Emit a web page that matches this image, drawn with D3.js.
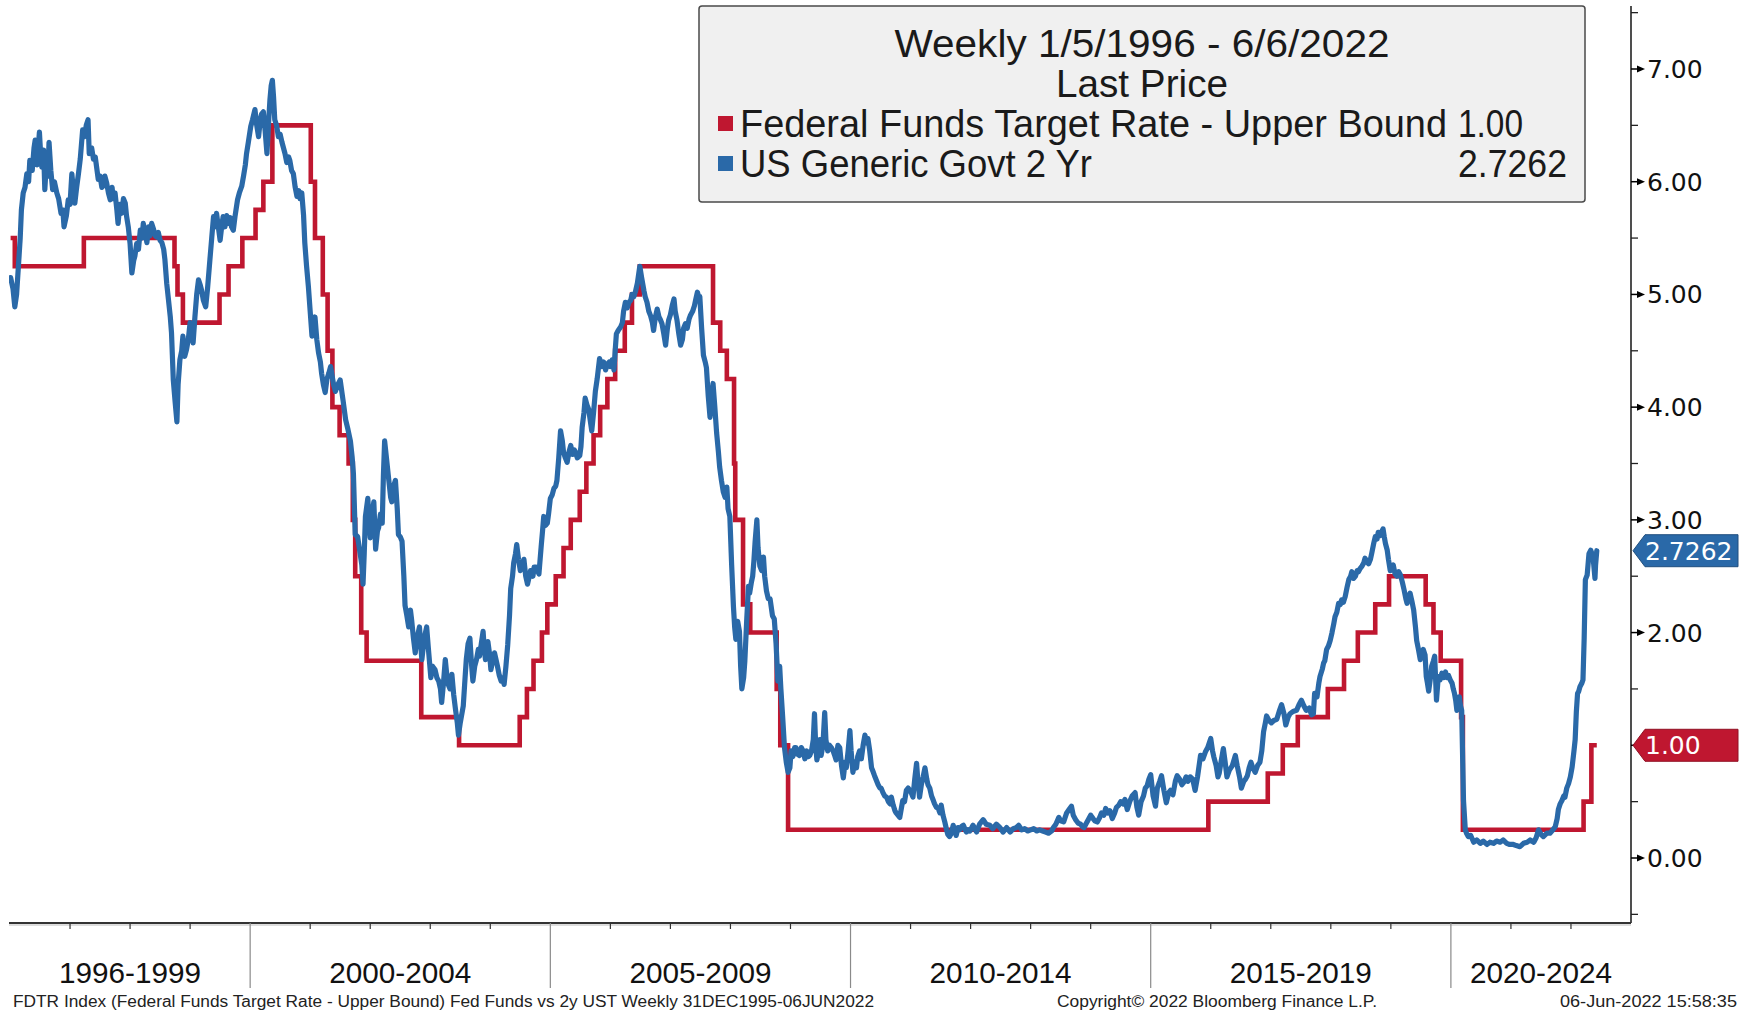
<!DOCTYPE html>
<html><head><meta charset="utf-8">
<script src="https://cdn.jsdelivr.net/npm/d3@7"></script>
<style>html,body{margin:0;padding:0;background:#fff;}svg{display:block;}</style>
</head><body>
<svg id="chart" width="1750" height="1012"></svg>
<script>
// ---------------- DATA ----------------
const titleLines = ["Weekly 1/5/1996 - 6/6/2022", "Last Price"];
const seriesNames = ["Federal Funds Target Rate - Upper Bound", "US Generic Govt 2 Yr"];
const lastValues = ["1.00", "2.7262"];
const periodLabels = ["1996-1999", "2000-2004", "2005-2009", "2010-2014", "2015-2019", "2020-2024"];
const periodStarts = [1996, 2000, 2005, 2010, 2015, 2020];
const yTicks = [0, 1, 2, 3, 4, 5, 6, 7];
const footerLeft = "FDTR Index (Federal Funds Target Rate - Upper Bound) Fed Funds vs 2y UST  Weekly 31DEC1995-06JUN2022";
const footerMid = "Copyright\u00A9 2022 Bloomberg Finance L.P.";
const footerRight = "06-Jun-2022 15:58:35";

// Fed funds target upper bound: change dates (decimal year) and levels
const fedDates = [1996.01,1996.08,1997.23,1998.74,1998.79,1998.88,1999.49,1999.64,1999.87,2000.09,2000.22,2000.37,
  2001.01,2001.08,2001.21,2001.29,2001.37,2001.49,2001.64,2001.71,2001.75,2001.85,2001.94,2002.85,2003.48,
  2004.49,2004.61,2004.72,2004.86,2004.95,2005.09,2005.22,2005.34,2005.49,2005.60,2005.72,2005.83,2005.95,
  2006.08,2006.24,2006.36,2006.49,2007.71,2007.83,2007.94,2008.06,2008.08,2008.21,2008.33,2008.77,2008.83,2008.96,
  2015.96,2016.95,2017.20,2017.45,2017.95,2018.22,2018.45,2018.74,2018.97,2019.58,2019.71,2019.83,2020.17,2020.20,
  2022.21,2022.34,2022.43];
const fedRates = [5.50,5.25,5.50,5.25,5.00,4.75,5.00,5.25,5.50,5.75,6.00,6.50,
  6.00,5.50,5.00,4.50,4.00,3.75,3.50,3.00,2.50,2.00,1.75,1.25,1.00,
  1.25,1.50,1.75,2.00,2.25,2.50,2.75,3.00,3.25,3.50,3.75,4.00,4.25,
  4.50,4.75,5.00,5.25,4.75,4.50,4.25,3.50,3.00,2.25,2.00,1.50,1.00,0.25,
  0.50,0.75,1.00,1.25,1.50,1.75,2.00,2.25,2.50,2.25,2.00,1.75,1.25,0.25,
  0.50,1.00,1.00];

// US 2Y yield readings [decimal year, yield]
const ust1996_1998 = [[1996.01,5.15],[1996.05,5.05],[1996.08,4.89],[1996.11,5.00],[1996.14,5.25],[1996.17,5.50],[1996.19,5.75],[1996.22,5.90],[1996.25,5.95],[1996.28,6.07],[1996.31,6.00],[1996.33,6.19],[1996.37,6.10],[1996.40,6.30],[1996.42,6.37],[1996.45,6.15],[1996.47,6.30],[1996.49,6.44],[1996.51,6.25],[1996.53,6.13],[1996.56,6.28],[1996.58,5.93],[1996.61,6.20],[1996.63,6.05],[1996.65,6.35],[1996.68,6.10],[1996.71,5.93],[1996.74,6.00],[1996.78,5.90],[1996.81,5.85],[1996.85,5.72],[1996.88,5.75],[1996.90,5.60],[1996.94,5.70],[1996.97,5.84],
  [1997.00,5.80],[1997.03,6.07],[1997.06,5.90],[1997.08,5.81],[1997.11,5.95],[1997.14,6.07],[1997.17,6.20],[1997.21,6.46],[1997.24,6.40],[1997.27,6.50],[1997.30,6.55],[1997.32,6.25],[1997.36,6.30],[1997.39,6.20],[1997.42,6.22],[1997.45,6.10],[1997.47,6.02],[1997.50,6.05],[1997.53,5.95],[1997.55,5.96],[1997.58,6.05],[1997.61,5.99],[1997.64,5.90],[1997.67,5.84],[1997.70,5.95],[1997.72,5.85],[1997.75,5.90],[1997.78,5.75],[1997.80,5.63],[1997.83,5.80],[1997.86,5.72],[1997.89,5.85],[1997.92,5.81],[1997.94,5.70],[1997.97,5.60],
  [1998.00,5.45],[1998.03,5.19],[1998.06,5.30],[1998.08,5.34],[1998.11,5.45],[1998.14,5.40],[1998.17,5.57],[1998.20,5.50],[1998.22,5.63],[1998.25,5.55],[1998.28,5.46],[1998.31,5.60],[1998.33,5.52],[1998.36,5.63],[1998.39,5.58],[1998.42,5.52],[1998.44,5.51],[1998.47,5.55],[1998.50,5.48],[1998.53,5.46],[1998.56,5.40],[1998.58,5.31],[1998.61,5.10],[1998.64,4.95],[1998.67,4.80],[1998.69,4.66],[1998.72,4.24],[1998.75,4.05],[1998.78,3.87],[1998.80,4.20],[1998.83,4.42],[1998.86,4.50],[1998.88,4.63],[1998.91,4.45],[1998.94,4.51],[1998.97,4.60]];
const ust1999_2001 = [[1999.00,4.75],[1999.03,4.65],[1999.05,4.57],[1999.08,4.80],[1999.11,5.00],[1999.14,5.13],[1999.17,5.08],[1999.19,5.04],[1999.22,4.95],[1999.26,4.89],[1999.29,5.05],[1999.33,5.31],[1999.36,5.50],[1999.39,5.69],[1999.42,5.60],[1999.44,5.72],[1999.47,5.60],[1999.50,5.48],[1999.53,5.62],[1999.55,5.69],[1999.58,5.60],[1999.61,5.70],[1999.64,5.63],[1999.67,5.68],[1999.69,5.60],[1999.72,5.57],[1999.75,5.70],[1999.79,5.84],[1999.82,5.90],[1999.86,5.96],[1999.89,6.05],[1999.92,6.15],[1999.94,6.25],[1999.97,6.35],
  [2000.01,6.49],[2000.04,6.55],[2000.08,6.64],[2000.11,6.50],[2000.14,6.40],[2000.17,6.55],[2000.19,6.60],[2000.22,6.62],[2000.25,6.45],[2000.28,6.25],[2000.31,6.55],[2000.33,6.73],[2000.35,6.85],[2000.37,6.90],[2000.39,6.75],[2000.41,6.55],[2000.44,6.50],[2000.47,6.40],[2000.50,6.42],[2000.53,6.35],[2000.55,6.31],[2000.58,6.25],[2000.61,6.17],[2000.64,6.22],[2000.66,6.19],[2000.69,6.10],[2000.72,6.07],[2000.75,5.95],[2000.78,5.87],[2000.81,5.92],[2000.83,5.85],[2000.86,5.90],[2000.89,5.70],[2000.91,5.46],[2000.94,5.25],[2000.97,5.07],
  [2001.00,4.85],[2001.03,4.63],[2001.06,4.70],[2001.08,4.80],[2001.11,4.60],[2001.14,4.48],[2001.17,4.40],[2001.19,4.30],[2001.22,4.20],[2001.25,4.13],[2001.28,4.25],[2001.31,4.30],[2001.34,4.36],[2001.39,4.20],[2001.42,4.14],[2001.46,4.20],[2001.50,4.24],[2001.55,4.05],[2001.59,3.89],[2001.63,3.80],[2001.67,3.70],[2001.70,3.55],[2001.72,3.41],[2001.75,2.87],[2001.79,2.85],[2001.83,2.71],[2001.86,2.60],[2001.88,2.43],[2001.90,2.70],[2001.92,3.03],[2001.96,3.19],[2001.98,3.00]];
const ust2002_2004 = [[2002.00,2.84],[2002.03,3.05],[2002.06,3.16],[2002.09,2.74],[2002.12,2.90],[2002.14,2.93],[2002.17,3.05],[2002.20,2.97],[2002.22,3.40],[2002.24,3.70],[2002.27,3.55],[2002.31,3.35],[2002.34,3.20],[2002.36,3.16],[2002.39,3.30],[2002.42,3.35],[2002.45,3.10],[2002.47,2.87],[2002.50,2.85],[2002.53,2.81],[2002.56,2.50],[2002.58,2.24],[2002.61,2.15],[2002.64,2.05],[2002.67,2.20],[2002.69,2.11],[2002.72,1.95],[2002.75,1.82],[2002.78,1.95],[2002.82,2.05],[2002.84,1.90],[2002.86,1.76],[2002.90,1.95],[2002.94,2.05],[2002.97,1.85],
  [2003.01,1.60],[2003.04,1.70],[2003.08,1.67],[2003.11,1.60],[2003.14,1.57],[2003.17,1.50],[2003.19,1.38],[2003.22,1.55],[2003.25,1.76],[2003.28,1.60],[2003.30,1.54],[2003.33,1.50],[2003.36,1.63],[2003.39,1.45],[2003.42,1.32],[2003.45,1.20],[2003.47,1.09],[2003.50,1.20],[2003.55,1.35],[2003.58,1.60],[2003.60,1.76],[2003.63,1.90],[2003.66,1.95],[2003.69,1.70],[2003.71,1.57],[2003.74,1.70],[2003.77,1.76],[2003.80,1.85],[2003.82,1.79],[2003.85,1.90],[2003.88,2.01],[2003.90,1.85],[2003.92,1.76],[2003.94,1.85],[2003.96,1.92],[2003.99,1.80],
  [2004.01,1.67],[2004.04,1.75],[2004.07,1.82],[2004.10,1.75],[2004.12,1.70],[2004.15,1.62],[2004.18,1.57],[2004.21,1.60],[2004.23,1.54],[2004.26,1.70],[2004.29,1.89],[2004.32,2.15],[2004.34,2.39],[2004.37,2.50],[2004.39,2.62],[2004.42,2.70],[2004.44,2.78],[2004.47,2.65],[2004.50,2.55],[2004.53,2.60],[2004.56,2.65],[2004.59,2.50],[2004.62,2.43],[2004.65,2.50],[2004.67,2.55],[2004.71,2.50],[2004.73,2.58],[2004.76,2.58],[2004.79,2.55],[2004.81,2.52],[2004.83,2.65],[2004.85,2.78],[2004.87,2.90],[2004.89,3.03],[2004.92,2.95],[2004.95,2.97],[2004.97,3.05]];
const ust2005_2007 = [[2005.00,3.19],[2005.03,3.22],[2005.06,3.28],[2005.09,3.30],[2005.11,3.35],[2005.14,3.55],[2005.17,3.79],[2005.20,3.70],[2005.22,3.60],[2005.25,3.55],[2005.28,3.51],[2005.31,3.60],[2005.34,3.66],[2005.37,3.58],[2005.40,3.62],[2005.42,3.60],[2005.45,3.55],[2005.49,3.57],[2005.51,3.65],[2005.53,3.82],[2005.56,3.95],[2005.58,4.08],[2005.61,4.02],[2005.64,3.98],[2005.66,3.90],[2005.69,3.79],[2005.72,3.95],[2005.75,4.14],[2005.78,4.25],[2005.82,4.43],[2005.84,4.40],[2005.86,4.36],[2005.89,4.40],[2005.92,4.33],[2005.95,4.38],[2005.98,4.40],
  [2006.00,4.36],[2006.03,4.42],[2006.06,4.33],[2006.08,4.50],[2006.10,4.65],[2006.13,4.68],[2006.17,4.71],[2006.20,4.75],[2006.22,4.85],[2006.25,4.93],[2006.28,4.88],[2006.31,4.93],[2006.34,4.95],[2006.36,5.00],[2006.39,4.98],[2006.42,5.03],[2006.45,5.10],[2006.49,5.25],[2006.52,5.15],[2006.56,5.03],[2006.58,4.98],[2006.61,4.93],[2006.64,4.85],[2006.67,4.81],[2006.70,4.75],[2006.72,4.68],[2006.75,4.80],[2006.78,4.87],[2006.81,4.80],[2006.83,4.78],[2006.86,4.74],[2006.89,4.65],[2006.92,4.55],[2006.95,4.70],[2006.97,4.77],
  [2007.00,4.82],[2007.03,4.90],[2007.06,4.96],[2007.08,4.85],[2007.11,4.77],[2007.14,4.65],[2007.17,4.55],[2007.20,4.60],[2007.22,4.70],[2007.25,4.74],[2007.28,4.70],[2007.31,4.78],[2007.33,4.81],[2007.37,4.85],[2007.40,4.90],[2007.42,4.95],[2007.45,5.02],[2007.47,4.98],[2007.49,4.98],[2007.52,4.70],[2007.55,4.46],[2007.58,4.40],[2007.60,4.35],[2007.63,4.10],[2007.66,3.91],[2007.68,4.05],[2007.71,4.21],[2007.74,4.00],[2007.77,3.77],[2007.80,3.60],[2007.82,3.47],[2007.85,3.35],[2007.88,3.25],[2007.91,3.20],[2007.94,3.29],[2007.96,3.10],[2007.99,3.03]];
const ust2008_2010 = [[2008.02,2.60],[2008.05,2.23],[2008.07,2.05],[2008.09,1.94],[2008.12,2.10],[2008.15,2.01],[2008.17,1.70],[2008.19,1.50],[2008.22,1.60],[2008.24,1.75],[2008.27,2.10],[2008.30,2.41],[2008.32,2.35],[2008.35,2.45],[2008.37,2.50],[2008.39,2.63],[2008.41,2.80],[2008.44,3.00],[2008.46,2.75],[2008.49,2.59],[2008.52,2.55],[2008.55,2.67],[2008.57,2.50],[2008.60,2.37],[2008.63,2.30],[2008.66,2.30],[2008.70,2.15],[2008.73,2.12],[2008.76,1.90],[2008.79,1.57],[2008.82,1.70],[2008.84,1.50],[2008.87,1.25],[2008.90,0.98],[2008.93,0.85],[2008.96,0.76],[2008.99,0.80],
  [2009.01,0.95],[2009.04,0.90],[2009.07,0.98],[2009.09,0.98],[2009.12,0.92],[2009.15,0.91],[2009.18,0.98],[2009.21,0.95],[2009.24,0.88],[2009.27,0.95],[2009.30,0.90],[2009.32,0.91],[2009.35,0.95],[2009.38,1.05],[2009.40,1.28],[2009.42,1.00],[2009.44,0.87],[2009.47,0.95],[2009.49,1.05],[2009.51,0.91],[2009.54,1.00],[2009.57,1.29],[2009.59,1.05],[2009.62,0.95],[2009.65,1.00],[2009.68,0.98],[2009.71,0.95],[2009.73,0.92],[2009.76,0.87],[2009.79,1.00],[2009.82,0.98],[2009.85,0.82],[2009.88,0.71],[2009.91,0.85],[2009.93,0.80],[2009.96,0.95],[2009.99,1.13],
  [2010.01,0.95],[2010.04,0.76],[2010.07,0.85],[2010.10,0.80],[2010.12,0.90],[2010.15,0.95],[2010.18,0.88],[2010.21,1.00],[2010.24,1.09],[2010.27,1.02],[2010.29,1.06],[2010.32,0.95],[2010.35,0.80],[2010.38,0.76],[2010.40,0.73],[2010.43,0.69],[2010.46,0.65],[2010.49,0.62],[2010.51,0.62],[2010.54,0.58],[2010.57,0.55],[2010.60,0.54],[2010.63,0.50],[2010.66,0.48],[2010.68,0.54],[2010.71,0.47],[2010.74,0.42],[2010.76,0.40],[2010.79,0.38],[2010.82,0.36],[2010.85,0.45],[2010.87,0.51],[2010.90,0.50],[2010.93,0.60],[2010.96,0.62],[2010.99,0.60]];
const ust2011_2013 = [[2011.01,0.58],[2011.04,0.54],[2011.07,0.70],[2011.10,0.84],[2011.12,0.70],[2011.15,0.54],[2011.18,0.65],[2011.21,0.72],[2011.24,0.80],[2011.27,0.70],[2011.29,0.65],[2011.32,0.62],[2011.35,0.55],[2011.38,0.51],[2011.40,0.48],[2011.43,0.45],[2011.46,0.44],[2011.49,0.40],[2011.51,0.47],[2011.54,0.38],[2011.57,0.32],[2011.60,0.25],[2011.62,0.21],[2011.65,0.19],[2011.68,0.22],[2011.71,0.29],[2011.74,0.24],[2011.76,0.20],[2011.79,0.27],[2011.82,0.25],[2011.85,0.28],[2011.88,0.29],[2011.91,0.25],[2011.93,0.23],[2011.96,0.25],[2011.99,0.24],
  [2012.04,0.29],[2012.10,0.23],[2012.15,0.30],[2012.21,0.34],[2012.26,0.30],[2012.32,0.29],[2012.37,0.26],[2012.43,0.30],[2012.49,0.27],[2012.54,0.23],[2012.60,0.27],[2012.66,0.23],[2012.71,0.26],[2012.76,0.27],[2012.80,0.29],[2012.85,0.25],[2012.90,0.26],[2012.95,0.24],
  [2013.00,0.25],[2013.05,0.26],[2013.10,0.24],[2013.15,0.25],[2013.20,0.24],[2013.25,0.23],[2013.30,0.22],[2013.35,0.24],[2013.38,0.27],[2013.42,0.30],[2013.47,0.36],[2013.50,0.33],[2013.55,0.32],[2013.60,0.40],[2013.64,0.43],[2013.68,0.46],[2013.71,0.38],[2013.75,0.34],[2013.79,0.31],[2013.83,0.30],[2013.86,0.28],[2013.89,0.27],[2013.93,0.31],[2013.96,0.34]];
const ust2014_2016 = [[2014.00,0.38],[2014.04,0.35],[2014.07,0.33],[2014.11,0.32],[2014.15,0.36],[2014.18,0.40],[2014.22,0.38],[2014.25,0.44],[2014.29,0.40],[2014.32,0.42],[2014.36,0.35],[2014.40,0.40],[2014.43,0.45],[2014.47,0.47],[2014.50,0.50],[2014.54,0.48],[2014.57,0.52],[2014.61,0.43],[2014.65,0.50],[2014.69,0.55],[2014.74,0.58],[2014.77,0.45],[2014.80,0.38],[2014.84,0.50],[2014.88,0.55],[2014.91,0.62],[2014.94,0.64],[2014.97,0.70],
  [2015.00,0.74],[2015.04,0.55],[2015.08,0.46],[2015.11,0.62],[2015.15,0.68],[2015.18,0.73],[2015.22,0.60],[2015.26,0.49],[2015.30,0.58],[2015.33,0.60],[2015.37,0.56],[2015.41,0.68],[2015.44,0.73],[2015.48,0.70],[2015.52,0.65],[2015.55,0.67],[2015.59,0.72],[2015.62,0.68],[2015.66,0.72],[2015.70,0.70],[2015.74,0.60],[2015.78,0.72],[2015.83,0.91],[2015.87,0.88],[2015.91,0.94],[2015.95,0.98],
  [2016.00,1.06],[2016.03,0.95],[2016.05,0.90],[2016.09,0.82],[2016.12,0.72],[2016.14,0.75],[2016.18,0.88],[2016.21,0.97],[2016.24,0.85],[2016.27,0.72],[2016.31,0.78],[2016.36,0.82],[2016.41,0.91],[2016.44,0.82],[2016.48,0.72],[2016.51,0.62],[2016.55,0.68],[2016.58,0.70],[2016.61,0.73],[2016.64,0.80],[2016.67,0.85],[2016.70,0.80],[2016.74,0.76],[2016.78,0.82],[2016.82,0.85],[2016.85,0.95],[2016.88,1.12],[2016.91,1.20],[2016.93,1.26],[2016.97,1.22]];
const ust2017_2019 = [[2017.01,1.20],[2017.05,1.22],[2017.10,1.23],[2017.14,1.30],[2017.18,1.36],[2017.22,1.28],[2017.25,1.18],[2017.29,1.25],[2017.32,1.28],[2017.37,1.30],[2017.43,1.31],[2017.47,1.36],[2017.51,1.40],[2017.55,1.35],[2017.59,1.31],[2017.64,1.33],[2017.68,1.27],[2017.71,1.28],[2017.73,1.46],[2017.77,1.43],[2017.80,1.55],[2017.82,1.61],[2017.86,1.68],[2017.88,1.73],[2017.90,1.75],[2017.93,1.85],[2017.96,1.88],[2017.99,1.93],
  [2018.02,2.00],[2018.05,2.08],[2018.07,2.14],[2018.10,2.18],[2018.13,2.26],[2018.16,2.25],[2018.18,2.29],[2018.21,2.27],[2018.24,2.32],[2018.27,2.40],[2018.30,2.47],[2018.33,2.50],[2018.35,2.54],[2018.38,2.48],[2018.41,2.50],[2018.44,2.55],[2018.46,2.54],[2018.49,2.57],[2018.52,2.59],[2018.55,2.62],[2018.57,2.66],[2018.60,2.63],[2018.63,2.61],[2018.66,2.65],[2018.68,2.70],[2018.71,2.78],[2018.74,2.85],[2018.77,2.83],[2018.79,2.89],[2018.82,2.86],[2018.85,2.90],[2018.87,2.92],[2018.89,2.85],[2018.91,2.79],[2018.94,2.73],[2018.96,2.65],[2018.99,2.55],
  [2019.01,2.58],[2019.04,2.60],[2019.07,2.52],[2019.10,2.50],[2019.13,2.54],[2019.16,2.51],[2019.19,2.45],[2019.22,2.38],[2019.25,2.30],[2019.27,2.26],[2019.30,2.32],[2019.32,2.35],[2019.35,2.28],[2019.38,2.20],[2019.41,2.05],[2019.43,1.93],[2019.46,1.85],[2019.49,1.76],[2019.51,1.82],[2019.54,1.85],[2019.57,1.80],[2019.59,1.61],[2019.61,1.55],[2019.63,1.48],[2019.66,1.60],[2019.68,1.70],[2019.71,1.75],[2019.73,1.79],[2019.76,1.40],[2019.79,1.61],[2019.82,1.58],[2019.85,1.64],[2019.88,1.60],[2019.91,1.65],[2019.94,1.60],[2019.96,1.62],[2019.99,1.58]];
const ust2020_2022 = [[2020.02,1.55],[2020.04,1.50],[2020.06,1.46],[2020.08,1.40],[2020.10,1.31],[2020.12,1.38],[2020.14,1.43],[2020.16,1.35],[2020.18,1.31],[2020.21,0.51],[2020.24,0.25],[2020.26,0.22],[2020.29,0.19],[2020.33,0.20],[2020.38,0.14],[2020.43,0.16],[2020.49,0.13],[2020.54,0.15],[2020.60,0.12],[2020.65,0.14],[2020.71,0.13],[2020.76,0.15],[2020.82,0.14],[2020.87,0.16],[2020.93,0.13],[2020.98,0.12],
  [2021.04,0.12],[2021.09,0.11],[2021.15,0.10],[2021.21,0.13],[2021.27,0.14],[2021.32,0.16],[2021.38,0.14],[2021.42,0.18],[2021.46,0.25],[2021.50,0.21],[2021.54,0.19],[2021.60,0.22],[2021.65,0.22],[2021.70,0.25],[2021.74,0.28],[2021.77,0.35],[2021.79,0.43],[2021.82,0.48],[2021.85,0.51],[2021.88,0.55],[2021.90,0.54],[2021.93,0.62],[2021.96,0.66],[2021.99,0.72],
  [2022.02,0.81],[2022.05,0.95],[2022.07,1.05],[2022.09,1.30],[2022.11,1.46],[2022.13,1.48],[2022.15,1.52],[2022.18,1.55],[2022.20,1.58],[2022.22,1.95],[2022.24,2.47],[2022.27,2.51],[2022.30,2.70],[2022.33,2.73],[2022.35,2.70],[2022.37,2.66],[2022.40,2.48],[2022.41,2.60],[2022.43,2.7262]];

// ---------------- CHART ----------------
const W = 1750, H = 1012;
const RED = "#BF1730", BLUE = "#2A69A8";
const svg = d3.select("#chart");
svg.append("rect").attr("width", W).attr("height", H).attr("fill", "#fff");

const x = d3.scaleLinear().domain([1996, 2023]).range([10, 1631]);
const y = d3.scaleLinear().domain([0, 7]).range([858, 69]);
const plotTop = 6, plotBottom = 923, plotLeft = 9, plotRight = 1631;

const fedData = fedDates.map((d, i) => [d, fedRates[i]]);
const ustData = [].concat(ust1996_1998, ust1999_2001, ust2002_2004, ust2005_2007,
  ust2008_2010, ust2011_2013, ust2014_2016, ust2017_2019, ust2020_2022);

svg.append("clipPath").attr("id", "clip").append("rect")
  .attr("x", plotLeft).attr("y", plotTop).attr("width", plotRight - plotLeft).attr("height", plotBottom - plotTop);

const g = svg.append("g").attr("clip-path", "url(#clip)");
g.append("path").datum(fedData)
  .attr("d", d3.line().x(d => x(d[0])).y(d => y(d[1])).curve(d3.curveStepAfter))
  .attr("fill", "none").attr("stroke", RED).attr("stroke-width", 4.6).attr("stroke-linejoin", "miter");
g.append("path").datum(ustData)
  .attr("d", d3.line().x(d => x(d[0])).y(d => y(d[1])))
  .attr("fill", "none").attr("stroke", BLUE).attr("stroke-width", 5.2)
  .attr("stroke-linejoin", "round").attr("stroke-linecap", "round");

// Right axis
svg.append("line").attr("x1", plotRight).attr("x2", plotRight).attr("y1", plotTop).attr("y2", plotBottom)
  .attr("stroke", "#222").attr("stroke-width", 1.6);
const minorTicks = d3.range(-0.5, 7.6, 0.5).filter(v => Math.abs(v - Math.round(v)) > 0.01);
svg.selectAll(".minor").data(minorTicks).enter().append("line")
  .attr("x1", plotRight).attr("x2", plotRight + 7).attr("y1", d => y(d)).attr("y2", d => y(d))
  .attr("stroke", "#222").attr("stroke-width", 1.3);
const majG = svg.selectAll(".major").data(yTicks).enter().append("g");
majG.append("line").attr("x1", plotRight).attr("x2", plotRight + 10).attr("y1", d => y(d)).attr("y2", d => y(d))
  .attr("stroke", "#000").attr("stroke-width", 1.5);
majG.append("path").attr("d", d => `M${plotRight + 6},${y(d) - 3.5}L${plotRight + 14},${y(d)}L${plotRight + 6},${y(d) + 3.5}Z`)
  .attr("fill", "#000");
majG.append("text").attr("x", 1647).attr("y", d => y(d)).attr("dy", "0.36em")
  .attr("font-family", "DejaVu Sans").attr("font-size", 25).attr("fill", "#111")
  .text(d => d3.format(".2f")(d));

// Bottom axis
svg.append("line").attr("x1", plotLeft).attr("x2", plotRight).attr("y1", plotBottom).attr("y2", plotBottom)
  .attr("stroke", "#333").attr("stroke-width", 2);
svg.append("line").attr("x1", plotLeft).attr("x2", plotRight).attr("y1", plotBottom + 2).attr("y2", plotBottom + 2)
  .attr("stroke", "#bbb").attr("stroke-width", 1);
const yearTicks = d3.range(1997, 2023).filter(yr => periodStarts.indexOf(yr) < 0);
svg.selectAll(".yt").data(yearTicks).enter().append("line")
  .attr("x1", d => x(d)).attr("x2", d => x(d)).attr("y1", plotBottom).attr("y2", plotBottom + 6)
  .attr("stroke", "#333").attr("stroke-width", 1.2);
svg.selectAll(".sep").data(periodStarts.slice(1)).enter().append("line")
  .attr("x1", d => x(d)).attr("x2", d => x(d)).attr("y1", plotBottom).attr("y2", 988)
  .attr("stroke", "#8a8a8a").attr("stroke-width", 1.2);
svg.selectAll(".pl").data(periodLabels).enter().append("text")
  .attr("x", (d, i) => x((periodStarts[i] + Math.min(periodStarts[i] + (i === 0 ? 4 : 5), 2023)) / 2))
  .attr("y", 983).attr("text-anchor", "middle")
  .attr("font-family", "Liberation Sans, Arial, sans-serif").attr("font-size", 30).attr("fill", "#111")
  .attr("textLength", 142).attr("lengthAdjust", "spacingAndGlyphs")
  .text(d => d);

// Footer
const ff = "Liberation Sans, Arial, sans-serif";
svg.append("text").attr("x", 13).attr("y", 1007).attr("font-family", ff).attr("font-size", 16).attr("fill", "#222")
  .attr("textLength", 861).attr("lengthAdjust", "spacingAndGlyphs").text(footerLeft);
svg.append("text").attr("x", 1057).attr("y", 1007).attr("font-family", ff).attr("font-size", 16).attr("fill", "#222")
  .attr("textLength", 320).attr("lengthAdjust", "spacingAndGlyphs").text(footerMid);
svg.append("text").attr("x", 1560).attr("y", 1007).attr("font-family", ff).attr("font-size", 16).attr("fill", "#222")
  .attr("textLength", 177).attr("lengthAdjust", "spacingAndGlyphs").text(footerRight);

// Value tags
function tag(v, color, label) {
  const cy = y(v), h = 32;
  svg.append("path")
    .attr("d", `M${plotRight + 2},${cy}L${plotRight + 14},${cy - h / 2}L1738,${cy - h / 2}L1738,${cy + h / 2}L${plotRight + 14},${cy + h / 2}Z`)
    .attr("fill", color).attr("stroke", d3.color(color).darker(0.8)).attr("stroke-width", 1);
  svg.append("text").attr("x", 1645).attr("y", cy).attr("dy", "0.36em")
    .attr("font-family", "DejaVu Sans").attr("font-size", 25).attr("fill", "#fff").text(label);
}
tag(+lastValues[1], BLUE, lastValues[1]);
tag(+lastValues[0], RED, lastValues[0]);

// Legend box
const lg = svg.append("g");
lg.append("rect").attr("x", 699).attr("y", 6).attr("width", 886).attr("height", 196).attr("rx", 3)
  .attr("fill", "#f0f0f0").attr("stroke", "#4a4a4a").attr("stroke-width", 1.5);
const lf = "Liberation Sans, Arial, sans-serif";
lg.append("text").attr("x", 1142).attr("y", 57).attr("text-anchor", "middle").attr("font-family", lf)
  .attr("font-size", 39).attr("fill", "#1a1a1a").attr("textLength", 495).attr("lengthAdjust", "spacingAndGlyphs").text(titleLines[0]);
lg.append("text").attr("x", 1142).attr("y", 97).attr("text-anchor", "middle").attr("font-family", lf)
  .attr("font-size", 39).attr("fill", "#1a1a1a").attr("textLength", 172).attr("lengthAdjust", "spacingAndGlyphs").text(titleLines[1]);
const rows = [{c: RED, name: seriesNames[0], val: lastValues[0], by: 137, vx: 1458, vw: 65},
              {c: BLUE, name: seriesNames[1], val: lastValues[1], by: 177, vx: 1458, vw: 109}];
const nameW = [707, 352];
rows.forEach((r, i) => {
  lg.append("rect").attr("x", 718).attr("y", r.by - 21).attr("width", 15).attr("height", 15).attr("fill", r.c);
  lg.append("text").attr("x", 740).attr("y", r.by).attr("font-family", lf).attr("font-size", 38).attr("fill", "#1a1a1a")
    .attr("textLength", nameW[i]).attr("lengthAdjust", "spacingAndGlyphs").text(r.name);
  lg.append("text").attr("x", i === 0 ? r.vx : 1567).attr("y", r.by).attr("text-anchor", i === 0 ? "start" : "end")
    .attr("font-family", lf).attr("font-size", 38).attr("fill", "#1a1a1a")
    .attr("textLength", r.vw).attr("lengthAdjust", "spacingAndGlyphs").text(r.val);
});
</script>
</body></html>
